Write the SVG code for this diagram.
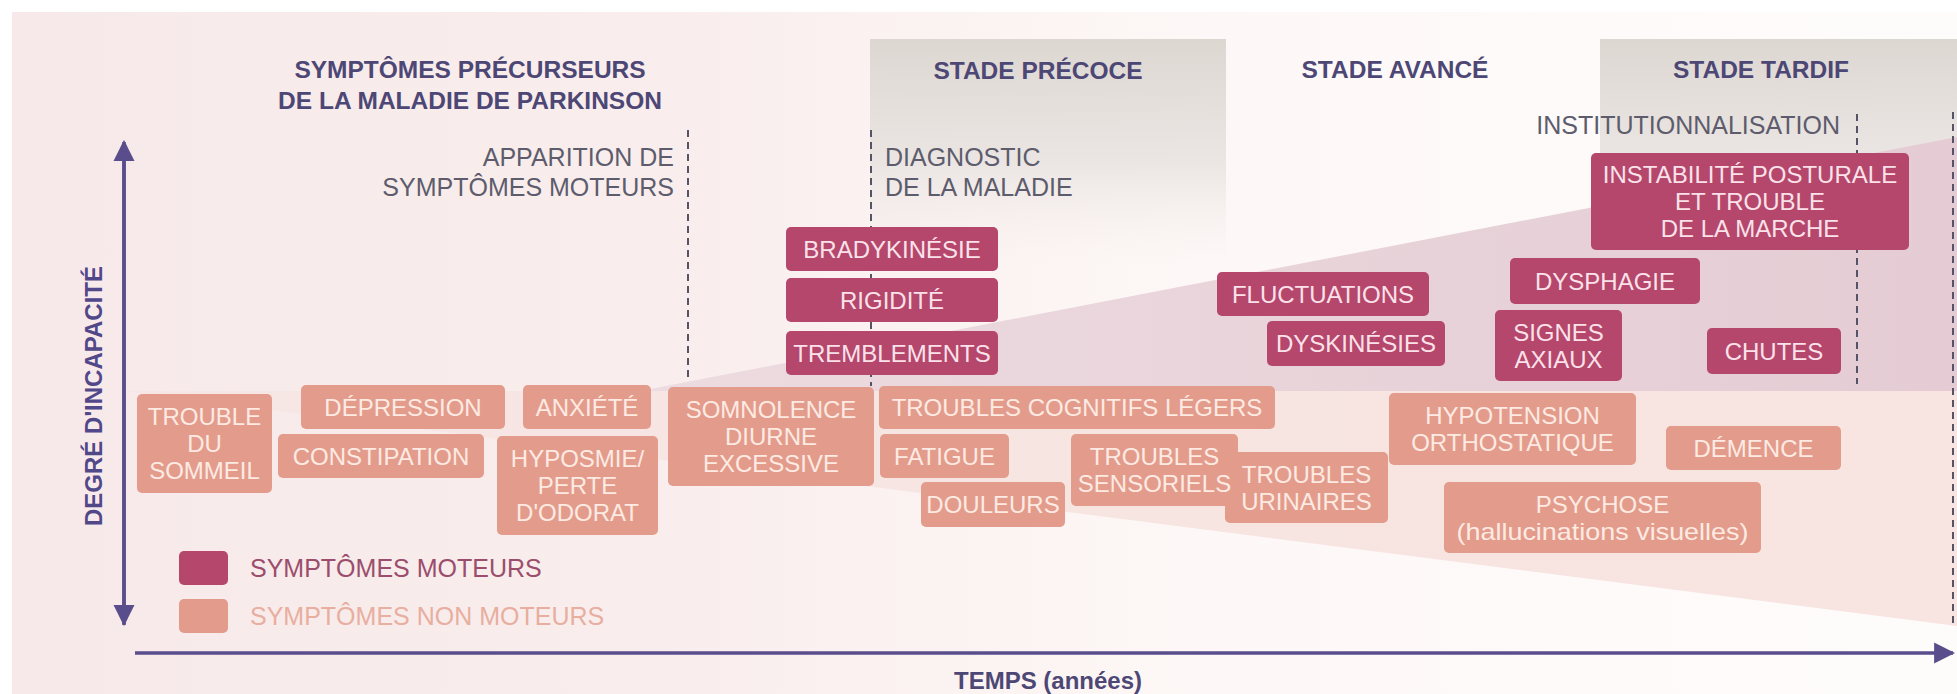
<svg xmlns="http://www.w3.org/2000/svg" width="1957" height="694" viewBox="0 0 1957 694">
<defs>
<linearGradient id="bgGrad" x1="0" y1="0" x2="1" y2="0">
<stop offset="0" stop-color="#f7e9e9"/>
<stop offset="0.35" stop-color="#f9eeed"/>
<stop offset="0.62" stop-color="#fdf8f7"/>
<stop offset="1" stop-color="#fefcfb"/>
</linearGradient>
<linearGradient id="stageGrad" x1="0" y1="0" x2="0" y2="1">
<stop offset="0" stop-color="#ddd7d2"/>
<stop offset="0.55" stop-color="#e9e4e1" stop-opacity="0.9"/>
<stop offset="1" stop-color="#f6eeee" stop-opacity="0"/>
</linearGradient>
<linearGradient id="motorGrad" x1="0" y1="0" x2="1" y2="0">
<stop offset="0" stop-color="#ecdbe0"/>
<stop offset="1" stop-color="#e5ccd4"/>
</linearGradient>
<linearGradient id="nonGrad" x1="0" y1="0" x2="1" y2="0">
<stop offset="0" stop-color="#f6e6e4"/>
<stop offset="1" stop-color="#f8e4e0"/>
</linearGradient>
<marker id="arr" viewBox="0 0 10 10" refX="9" refY="5" markerWidth="6" markerHeight="7" markerUnits="strokeWidth" orient="auto">
<path d="M0,0 L10,5 L0,10 Z" fill="#5a4d8c"/>
</marker>
</defs>
<style>
text{font-family:"Liberation Sans",Arial,sans-serif}
.h{font-weight:bold;font-size:24.5px;fill:#4d4775;text-anchor:middle}
.lbl{font-size:25px;fill:#5d5c6c}
.dash{stroke:#555466;stroke-width:2;stroke-dasharray:7 5;fill:none}
.m rect{fill:#b5476c}
.m text{font-size:24px;fill:#fbe2ea;text-anchor:middle}
.n rect{fill:#e39c8b}
.n text{font-size:24px;fill:#fdeae3;text-anchor:middle}
.axis{stroke:#5a4d8c;stroke-width:3.5;fill:none}
</style>

<rect x="0" y="0" width="1957" height="694" fill="#ffffff"/>
<rect x="12" y="12" width="1945" height="682" fill="url(#bgGrad)"/>

<g id="stages">
<rect x="870" y="39" width="356" height="226" fill="url(#stageGrad)"/>
<rect x="1600" y="39" width="357" height="226" fill="url(#stageGrad)"/>
</g>

<g id="zones">
<polygon points="124,391 1957,391 1957,626" fill="url(#nonGrad)"/>
<polygon points="640,391 1957,137 1957,391" fill="url(#motorGrad)"/>
</g>

<g id="connectors">
<line class="dash" x1="688" y1="130" x2="688" y2="381"/>
<line class="dash" x1="871" y1="130" x2="871" y2="386"/>
<line class="dash" x1="1857" y1="114" x2="1857" y2="384"/>
<line class="dash" x1="1953" y1="112" x2="1953" y2="628"/>
<line class="axis" x1="124" y1="625" x2="124" y2="142" marker-end="url(#arr)"/>
<line class="axis" x1="124" y1="145" x2="124" y2="624" marker-end="url(#arr)"/>
<line class="axis" x1="135" y1="653" x2="1953" y2="653" marker-end="url(#arr)"/>
</g>

<g id="headings">
<text class="h" x="470" y="78">SYMPTÔMES PRÉCURSEURS</text>
<text class="h" x="470" y="109">DE LA MALADIE DE PARKINSON</text>
<text class="h" x="1038" y="79">STADE PRÉCOCE</text>
<text class="h" x="1395" y="78">STADE AVANCÉ</text>
<text class="h" x="1761" y="78">STADE TARDIF</text>
</g>

<g id="events">
<text class="lbl" x="674" y="166" text-anchor="end">APPARITION DE</text>
<text class="lbl" x="674" y="196" text-anchor="end">SYMPTÔMES MOTEURS</text>
<text class="lbl" x="885" y="166">DIAGNOSTIC</text>
<text class="lbl" x="885" y="196">DE LA MALADIE</text>
<text class="lbl" x="1840" y="134" text-anchor="end">INSTITUTIONNALISATION</text>
</g>

<g id="bradykinesie" class="m"><rect x="786" y="227" width="212" height="44" rx="5"/><text x="892" y="257.6">BRADYKINÉSIE</text></g>
<g id="rigidite" class="m"><rect x="786" y="278" width="212" height="44" rx="5"/><text x="892" y="308.6">RIGIDITÉ</text></g>
<g id="tremblements" class="m"><rect x="786" y="331" width="212" height="44" rx="5"/><text x="892" y="361.6">TREMBLEMENTS</text></g>
<g id="fluctuations" class="m"><rect x="1217" y="272" width="212" height="44" rx="5"/><text x="1323" y="302.6">FLUCTUATIONS</text></g>
<g id="dyskinesies" class="m"><rect x="1267" y="321" width="178" height="45" rx="5"/><text x="1356" y="352.1">DYSKINÉSIES</text></g>
<g id="dysphagie" class="m"><rect x="1510" y="258" width="190" height="46" rx="5"/><text x="1605" y="289.6">DYSPHAGIE</text></g>
<g id="signes-axiaux" class="m"><rect x="1495" y="310" width="127" height="71" rx="5"/><text x="1558.5" y="340.6">SIGNES<tspan x="1558.5" dy="27">AXIAUX</tspan></text></g>
<g id="chutes" class="m"><rect x="1707" y="328" width="134" height="46" rx="5"/><text x="1774" y="359.6">CHUTES</text></g>
<g id="instabilite" class="m"><rect x="1591" y="153" width="318" height="97" rx="5"/><text x="1750" y="183.1">INSTABILITÉ POSTURALE<tspan x="1750" dy="27">ET TROUBLE</tspan><tspan x="1750" dy="27">DE LA MARCHE</tspan></text></g>

<g id="trouble-sommeil" class="n"><rect x="137" y="394" width="135" height="99" rx="5"/><text x="204.5" y="425.1">TROUBLE<tspan x="204.5" dy="27">DU</tspan><tspan x="204.5" dy="27">SOMMEIL</tspan></text></g>
<g id="depression" class="n"><rect x="301" y="385" width="204" height="44" rx="5"/><text x="403" y="415.6">DÉPRESSION</text></g>
<g id="constipation" class="n"><rect x="278" y="434" width="206" height="44" rx="5"/><text x="381" y="464.6">CONSTIPATION</text></g>
<g id="anxiete" class="n"><rect x="523" y="385" width="128" height="44" rx="5"/><text x="587" y="415.6">ANXIÉTÉ</text></g>
<g id="hyposmie" class="n"><rect x="497" y="436" width="161" height="99" rx="5"/><text x="577.5" y="467.1">HYPOSMIE/<tspan x="577.5" dy="27">PERTE</tspan><tspan x="577.5" dy="27">D'ODORAT</tspan></text></g>
<g id="somnolence" class="n"><rect x="668" y="387" width="206" height="99" rx="5"/><text x="771" y="418.1">SOMNOLENCE<tspan x="771" dy="27">DIURNE</tspan><tspan x="771" dy="27">EXCESSIVE</tspan></text></g>
<g id="cognitifs" class="n"><rect x="879" y="386" width="396" height="43" rx="5"/><text x="1077" y="416.1">TROUBLES COGNITIFS LÉGERS</text></g>
<g id="fatigue" class="n"><rect x="880" y="434" width="129" height="44" rx="5"/><text x="944.5" y="464.6">FATIGUE</text></g>
<g id="douleurs" class="n"><rect x="921" y="482" width="144" height="45" rx="5"/><text x="993" y="513.1">DOULEURS</text></g>
<g id="urinaires" class="n"><rect x="1225" y="452" width="163" height="71" rx="5"/><text x="1306.5" y="482.6">TROUBLES<tspan x="1306.5" dy="27">URINAIRES</tspan></text></g>
<g id="sensoriels" class="n"><rect x="1071" y="434" width="167" height="72" rx="5"/><text x="1154.5" y="465.1">TROUBLES<tspan x="1154.5" dy="27">SENSORIELS</tspan></text></g>
<g id="hypotension" class="n"><rect x="1389" y="393" width="247" height="72" rx="5"/><text x="1512.5" y="424.1">HYPOTENSION<tspan x="1512.5" dy="27">ORTHOSTATIQUE</tspan></text></g>
<g id="demence" class="n"><rect x="1666" y="426" width="175" height="44" rx="5"/><text x="1753.5" y="456.6">DÉMENCE</text></g>
<g id="psychose" class="n"><rect x="1444" y="482" width="317" height="71" rx="5"/><text x="1602.5" y="512.6">PSYCHOSE<tspan x="1602.5" dy="27" textLength="292" lengthAdjust="spacingAndGlyphs">(hallucinations visuelles)</tspan></text></g>

<g id="legend">
<rect x="179" y="551" width="49" height="34" rx="5" fill="#b5476c"/>
<text x="250" y="577" font-size="25" fill="#9c4d6c">SYMPTÔMES MOTEURS</text>
<rect x="179" y="599" width="49" height="34" rx="5" fill="#e39c8b"/>
<text x="250" y="625" font-size="25" fill="#e8ae9f">SYMPTÔMES NON MOTEURS</text>
</g>

<g id="axis-labels">
<text transform="translate(102,396) rotate(-90)" font-weight="bold" font-size="24" fill="#51488a" text-anchor="middle">DEGRÉ D'INCAPACITÉ</text>
<text x="1048" y="689" font-weight="bold" font-size="24" fill="#4d4775" text-anchor="middle">TEMPS (années)</text>
</g>
</svg>
